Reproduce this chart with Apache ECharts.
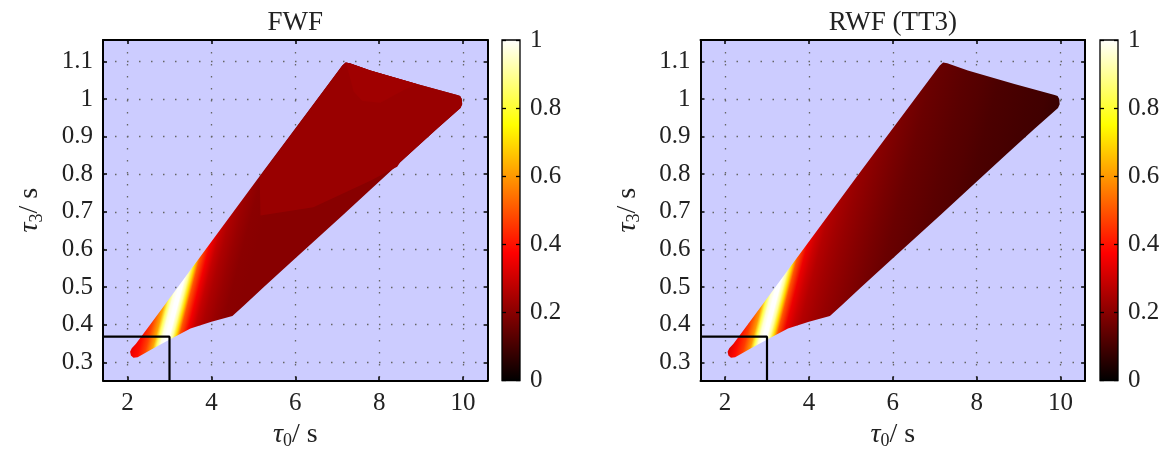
<!DOCTYPE html>
<html><head><meta charset="utf-8">
<script src="https://cdn.jsdelivr.net/npm/echarts@6/dist/echarts.min.js"></script>
<style>html,body{margin:0;padding:0;background:#fff}#c{width:1166px;height:453px}</style>
</head><body><div id="c"></div>
<script>
// ---------- data ----------
const titles = ['FWF', 'RWF (TT3)'];
const tau0Ticks = [2, 4, 6, 8, 10];
const tau3Ticks = [0.3, 0.4, 0.5, 0.6, 0.7, 0.8, 0.9, 1, 1.1];
const cbTicks = [0, 0.2, 0.4, 0.6, 0.8, 1];
const tau0Range = [1.414, 10.586];
const tau3Range = [0.2515, 1.157];

// outline of the covered region (same in both panels)
const outlineTau0 = [2.06, 2.08, 2.14, 2.24, 2.63, 3.05, 3.5, 4.0, 4.5, 4.77, 5.25, 5.89, 6.29, 7.15, 7.79, 8.75, 9.38, 9.94, 9.98, 9.97, 9.93, 9.86, 8.9, 7.79, 7.3, 7.2, 7.12, 5.25, 2.55, 2.2, 2.1];
const outlineTau3 = [0.328, 0.318, 0.312, 0.313, 0.338, 0.363, 0.39, 0.408, 0.423, 0.45, 0.5, 0.565, 0.606, 0.693, 0.759, 0.857, 0.921, 0.976, 0.986, 1.0, 1.008, 1.011, 1.04, 1.076, 1.095, 1.097, 1.089, 0.81, 0.402, 0.349, 0.337];

// samples read along the body of the region
const spineTau0 = [2.1, 2.3, 2.5, 2.7, 2.8, 2.9, 3.0, 3.1, 3.2, 3.3, 3.4, 3.6, 3.8, 4.0, 4.3, 4.6, 5.0, 5.5, 6.0, 6.5, 7.0, 7.5, 8.0, 8.5, 9.0, 9.5, 9.9];
const spineTau3 = [0.33, 0.347, 0.364, 0.38, 0.389, 0.397, 0.406, 0.414, 0.422, 0.431, 0.439, 0.456, 0.473, 0.49, 0.515, 0.54, 0.574, 0.616, 0.658, 0.7, 0.742, 0.784, 0.826, 0.868, 0.91, 0.95, 0.985];
const fwfSpine = [0.35, 0.39, 0.47, 0.62, 0.84, 0.97, 1.0, 1.0, 0.9, 0.7, 0.5, 0.36, 0.29, 0.255, 0.225, 0.205, 0.2, 0.2, 0.2, 0.2, 0.2, 0.2, 0.2, 0.2, 0.2, 0.2, 0.2];
const rwfSpine = [0.33, 0.39, 0.46, 0.6, 0.82, 0.96, 1.0, 1.0, 0.9, 0.7, 0.5, 0.35, 0.3, 0.265, 0.24, 0.22, 0.2, 0.176, 0.156, 0.144, 0.132, 0.124, 0.112, 0.106, 0.1, 0.095, 0.085];

// FWF flat patches
const fwfBodyTau0 = [5.15, 7.12, 7.2, 7.3, 7.79, 8.9, 9.86, 9.93, 9.97, 9.98, 9.94, 9.38, 8.75, 8.5, 8.43, 7.79, 6.43, 5.17];
const fwfBodyTau3 = [0.792, 1.089, 1.097, 1.095, 1.076, 1.04, 1.011, 1.008, 1.0, 0.986, 0.976, 0.921, 0.857, 0.832, 0.82, 0.783, 0.712, 0.69];
const fwfBodyValue = 0.225;
const fwfTopTau0 = [7.2, 7.3, 7.79, 8.9, 8.6, 8.03, 7.6, 7.39, 7.25];
const fwfTopTau3 = [1.097, 1.095, 1.076, 1.04, 1.025, 0.99, 0.995, 1.02, 1.08];
const fwfTopValue = 0.235;

// black box in the lower-left corner
const boxTau0 = 3.0;
const boxTau3 = 0.368;

// ---------- style / layout ----------
const FONT = "'Liberation Serif', 'DejaVu Serif', serif";
const TXT = '#222';
const panelLeft = [103, 700.5];
const cbLeft = [502, 1100];
const TOP = 40, PH = 340.5, PW = 384.6, CBW = 18;
const TILT = 0.26;

function hot(v) {
  const c = x => Math.round(255 * Math.max(0, Math.min(1, x)));
  return 'rgb(' + c(v / 0.375) + ',' + c((v - 0.375) / 0.375) + ',' + c((v - 0.75) / 0.25) + ')';
}

function regionRender(spineVals, patches) {
  return function (params, api) {
    const pts = outlineTau0.map((t, i) => api.coord([t, outlineTau3[i]]));
    const sp = spineTau0.map((t, i) => api.coord([t, spineTau3[i]]));
    const n = Math.hypot(1, TILT), gx = 1 / n, gy = TILT / n;
    const o = sp[0];
    const d = sp.map(p => (p[0] - o[0]) * gx + (p[1] - o[1]) * gy);
    const L = d[d.length - 1];
    const stops = d.map((di, i) => ({ offset: Math.max(0, Math.min(1, di / L)), color: hot(spineVals[i]) }));
    const grad = new echarts.graphic.LinearGradient(o[0], o[1], o[0] + gx * L, o[1] + gy * L, stops, true);
    const children = [{ type: 'polygon', shape: { points: pts }, style: { fill: grad } }];
    patches.forEach(p => {
      children.push({ type: 'polygon', shape: { points: p.t0.map((t, i) => api.coord([t, p.t3[i]])) }, style: { fill: hot(p.v) } });
    });
    return { type: 'group', children: children };
  };
}

function cbRender(params, api) {
  const a = api.coord([0, 0]), b = api.coord([1, 1]);
  return {
    type: 'rect',
    shape: { x: a[0], y: b[1], width: b[0] - a[0], height: a[1] - b[1] },
    style: {
      fill: new echarts.graphic.LinearGradient(0, 1, 0, 0, [
        { offset: 0, color: '#000' }, { offset: 0.375, color: '#f00' },
        { offset: 0.75, color: '#ff0' }, { offset: 1, color: '#fff' }]),
      stroke: '#000', lineWidth: 1.3
    }
  };
}

const grids = [], xAxes = [], yAxes = [], series = [], graphics = [];
const labelStyle = { color: TXT, fontFamily: FONT, fontSize: 25 };
const nameRich = {
  i: { fontFamily: FONT, fontStyle: 'italic', fontSize: 28, color: TXT, verticalAlign: 'middle', lineHeight: 32 },
  s: { fontFamily: FONT, fontSize: 18, color: TXT, verticalAlign: 'bottom', lineHeight: 18 },
  n: { fontFamily: FONT, fontSize: 28, color: TXT, verticalAlign: 'middle', lineHeight: 32 }
};

for (let p = 0; p < 2; p++) {
  const gi = grids.length;
  grids.push({ left: panelLeft[p], top: TOP, width: PW, height: PH, show: true, backgroundColor: '#ccccff', borderWidth: 0, outerBoundsMode: 'none', containLabel: false });
  const axLine = { show: true, onZero: false, lineStyle: { color: '#000', width: 2 } };
  const tick = (vals) => ({ show: true, inside: true, length: 4, lineStyle: { color: '#000', width: 1.5 }, customValues: vals });
  const split = { show: true, lineStyle: { type: [1.5, 10.5], color: '#666', width: 1.3 } };
  xAxes.push({
    type: 'value', gridIndex: gi, position: 'bottom', min: tau0Range[0], max: tau0Range[1],
    axisLine: axLine, axisTick: tick(tau0Ticks), splitLine: split,
    axisLabel: Object.assign({ show: true, margin: 10, customValues: tau0Ticks }, labelStyle),
    name: '{i|τ}{s|0}{n|/ s}', nameLocation: 'middle', nameGap: 35, nameTextStyle: { rich: nameRich }
  });
  xAxes.push({
    type: 'value', gridIndex: gi, position: 'top', min: tau0Range[0], max: tau0Range[1],
    axisLine: axLine, axisTick: tick(tau0Ticks), splitLine: { show: false }, axisLabel: { show: false }
  });
  yAxes.push({
    type: 'value', gridIndex: gi, position: 'left', min: tau3Range[0], max: tau3Range[1],
    axisLine: axLine, axisTick: tick(tau3Ticks), splitLine: split,
    axisLabel: Object.assign({ show: true, margin: 10, customValues: tau3Ticks }, labelStyle),
    name: '{i|τ}{s|3}{n|/ s}', nameLocation: 'middle', nameGap: 57, nameRotate: 90, nameTextStyle: { rich: nameRich }
  });
  yAxes.push({
    type: 'value', gridIndex: gi, position: 'right', min: tau3Range[0], max: tau3Range[1],
    axisLine: axLine, axisTick: tick(tau3Ticks), splitLine: { show: false }, axisLabel: { show: false }
  });
  const patches = p === 0 ? [
    { t0: fwfBodyTau0, t3: fwfBodyTau3, v: fwfBodyValue },
    { t0: fwfTopTau0, t3: fwfTopTau3, v: fwfTopValue }] : [];
  series.push({
    type: 'custom', xAxisIndex: 2 * p, yAxisIndex: 2 * p, data: [[spineTau0[0], spineTau3[0]]],
    renderItem: regionRender(p === 0 ? fwfSpine : rwfSpine, patches), silent: true, z: 2
  });
  series.push({
    type: 'line', xAxisIndex: 2 * p, yAxisIndex: 2 * p, symbol: 'none', silent: true, z: 4,
    data: [[tau0Range[0], boxTau3], [boxTau0, boxTau3], [boxTau0, tau3Range[0]]],
    lineStyle: { color: '#000', width: 2.2 }
  });
  graphics.push({
    type: 'text', x: panelLeft[p] + PW / 2, y: 23,
    style: { text: titles[p], fill: TXT, font: '27px ' + FONT, textAlign: 'center', textVerticalAlign: 'middle' }
  });
}

// colorbars
for (let p = 0; p < 2; p++) {
  const gi = grids.length;
  grids.push({ left: cbLeft[p], top: TOP, width: CBW, height: PH, outerBoundsMode: 'none', containLabel: false });
  const xi = xAxes.length, yi = yAxes.length;
  xAxes.push({ type: 'value', gridIndex: gi, min: 0, max: 1, show: false });
  yAxes.push({
    type: 'value', gridIndex: gi, position: 'left', min: 0, max: 1, interval: 0.2, z: 5,
    axisLine: { show: false }, splitLine: { show: false }, axisLabel: { show: false },
    axisTick: { show: true, inside: true, length: 4, lineStyle: { color: '#000', width: 1.3 } }
  });
  yAxes.push({
    type: 'value', gridIndex: gi, position: 'right', min: 0, max: 1, interval: 0.2, z: 5,
    axisLine: { show: false }, splitLine: { show: false },
    axisTick: { show: true, inside: true, length: 4, lineStyle: { color: '#000', width: 1.3 } },
    axisLabel: Object.assign({ show: true, margin: 10, customValues: cbTicks }, labelStyle)
  });
  series.push({ type: 'custom', xAxisIndex: xi, yAxisIndex: yi, data: [[0, 0]], renderItem: cbRender, silent: true, z: 2 });
}

const chart = echarts.init(document.getElementById('c'), null, { renderer: 'canvas' });
chart.setOption({
  animation: false,
  grid: grids, xAxis: xAxes, yAxis: yAxes, series: series, graphic: graphics
});
</script></body></html>
